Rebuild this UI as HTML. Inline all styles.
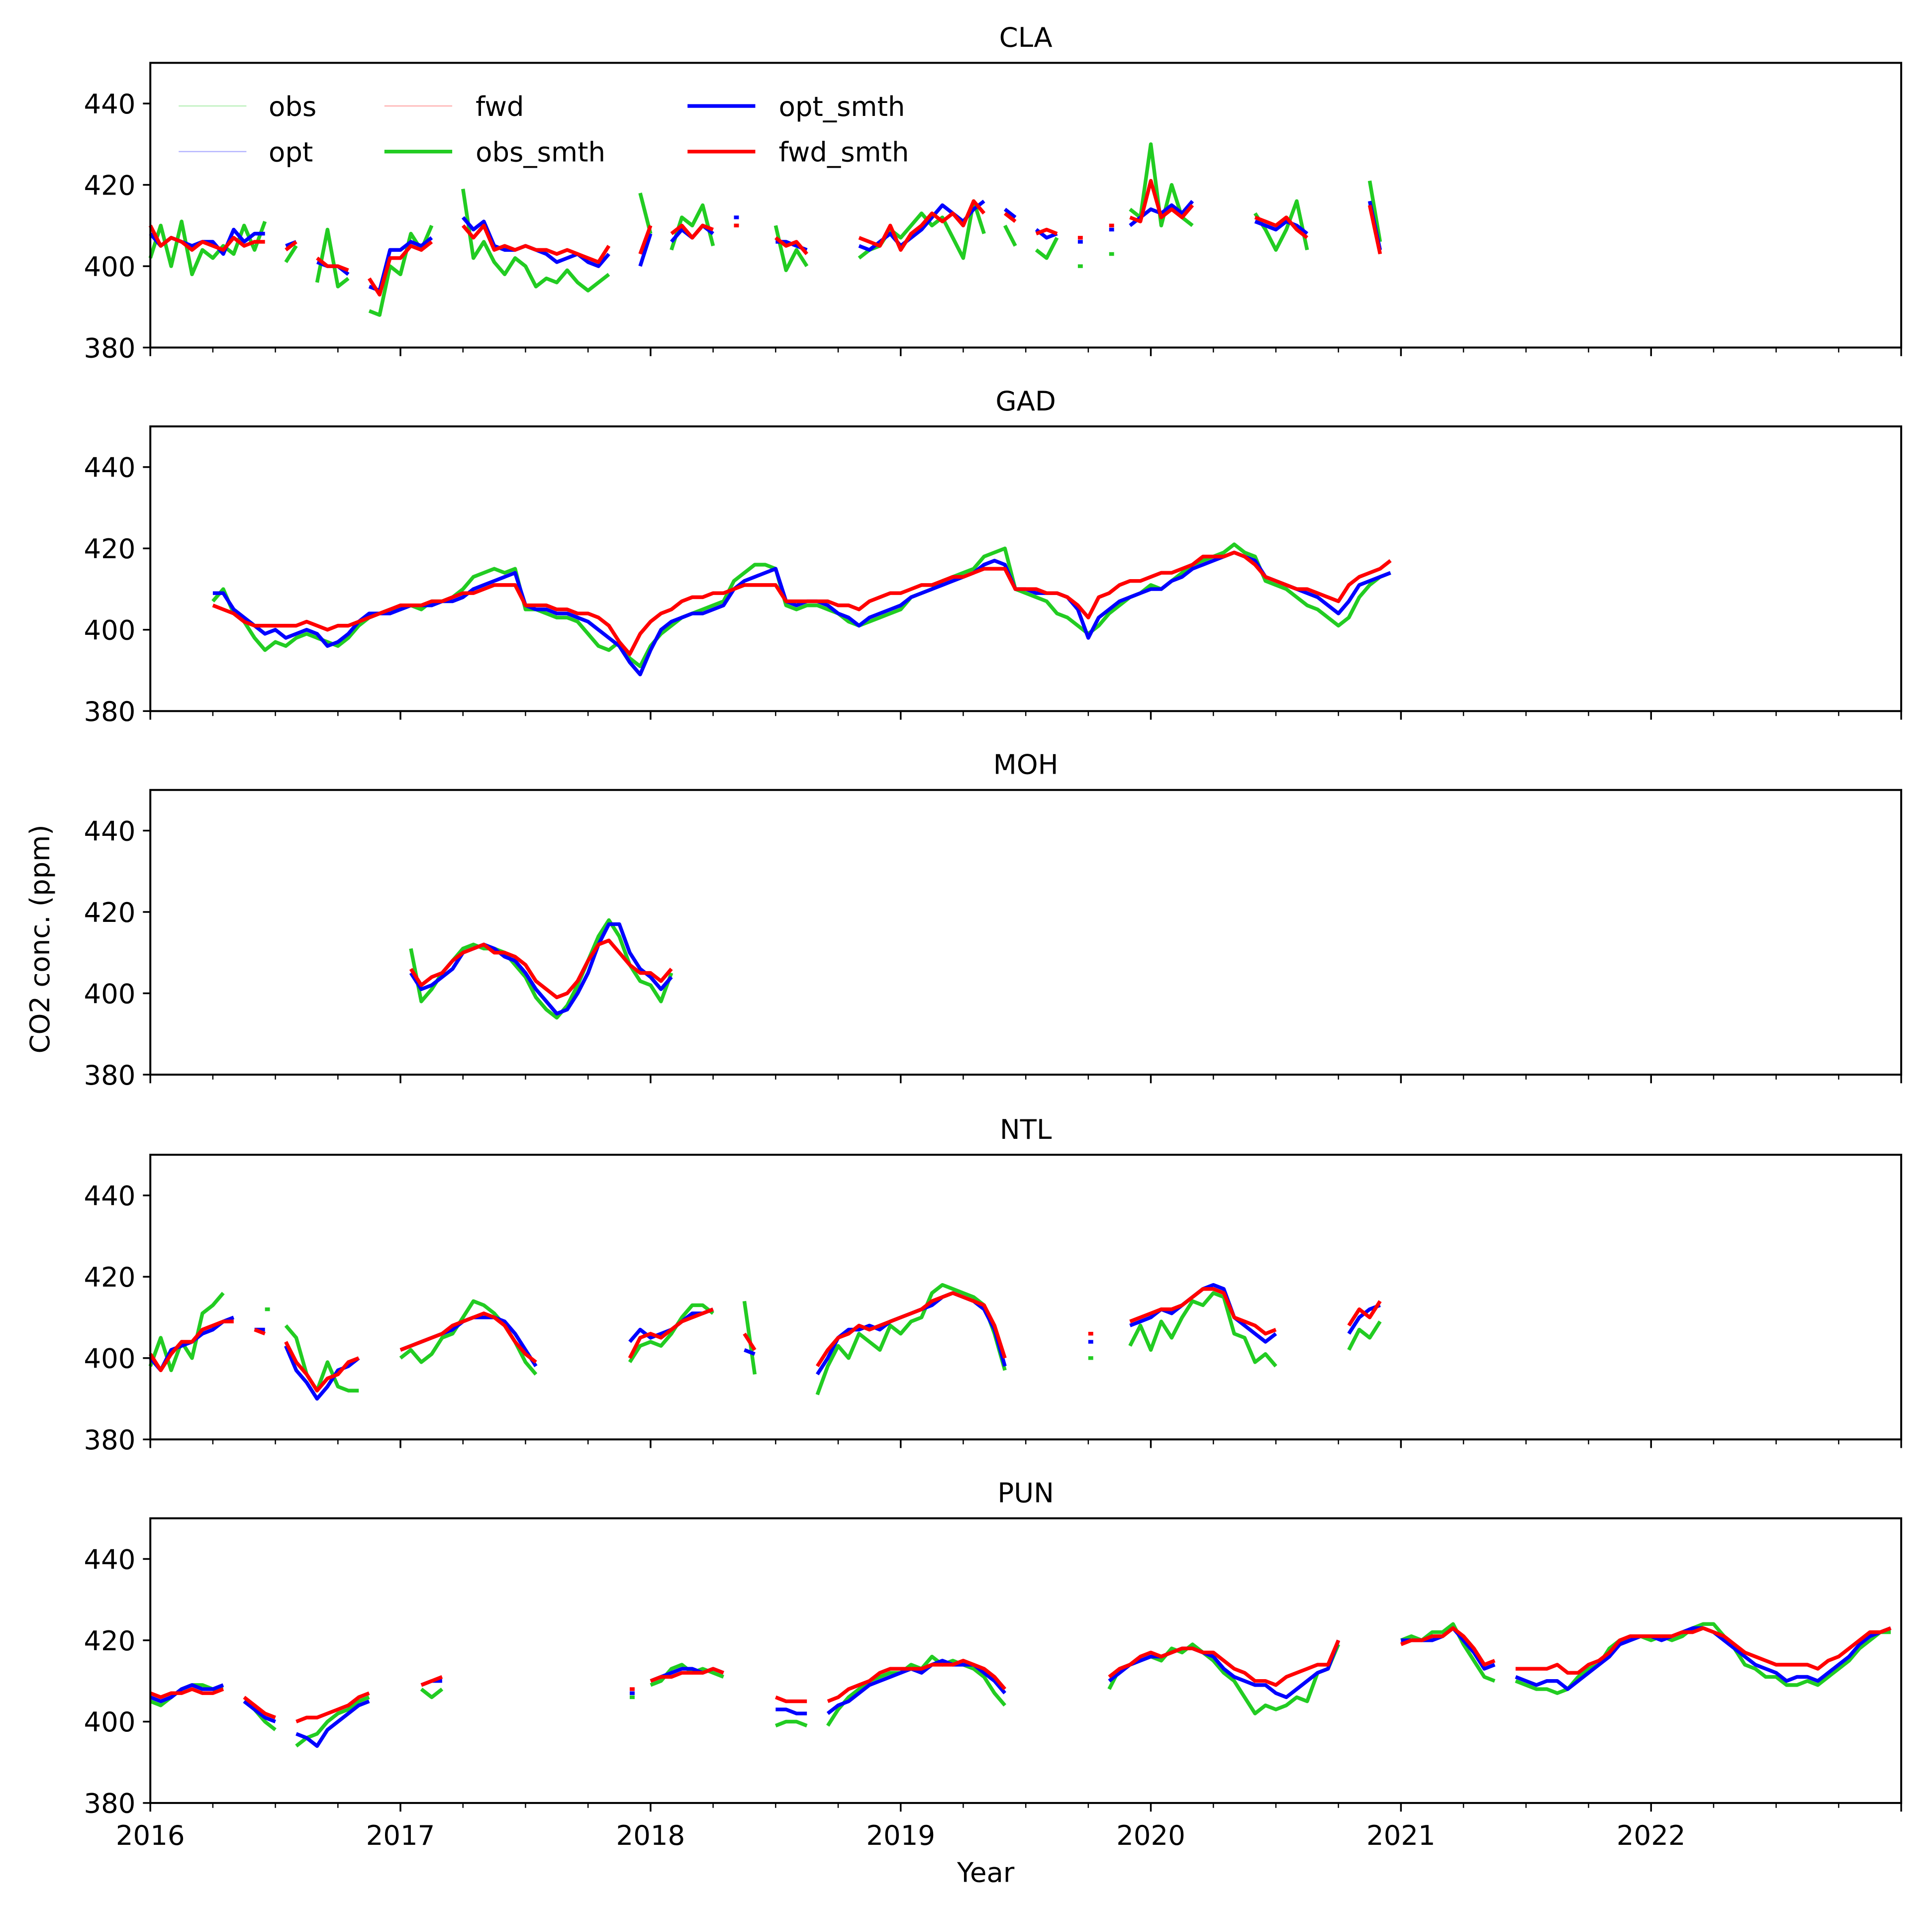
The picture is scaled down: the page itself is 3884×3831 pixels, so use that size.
<!DOCTYPE html>
<html><head><meta charset="utf-8"><style>
html,body{margin:0;padding:0;background:#fff}
svg{display:block}
text{font-family:"DejaVu Sans","Liberation Sans",sans-serif;fill:#000}
</style></head><body>
<svg id="chart" width="3884" height="3831" viewBox="0 0 1568 1546.6" xmlns="http://www.w3.org/2000/svg"></svg>
<script>
const stations = ["CLA","GAD","MOH","NTL","PUN"];
const yTicks = [380,400,420,440];
const xTickLabels = ["2016","2017","2018","2019","2020","2021","2022"];
const n = null;
// half-monthly values starting 2016.0 (step 1/24 yr)
const claOpt = [408,405,407,406,405,406,406,403,409,406,408,408,n,405,406,n,401,400,400,398,n,395,394,404,
 404,406,405,407,n,n,412,409,411,405,404,404,405,404,403,401,402,403,401,400,403,n,n,400,
 408,n,406,409,407,410,408,n,412,n,n,n,406,406,405,404,n,n,n,n,405,404,406,408,
 405,407,409,412,415,413,411,414,416,n,414,412,n,409,407,408,n,406,n,n,409,n,410,412,
 414,413,415,413,416,n,n,n,n,n,411,410,409,411,410,408,n,n,n,n,n,416,404,n];
const claObs = [402,410,400,411,398,404,402,405,403,410,404,411,n,401,405,n,396,409,395,397,n,389,388,400,
 398,408,404,410,n,n,419,402,406,401,398,402,400,395,397,396,399,396,394,396,398,n,n,418,
 408,n,404,412,410,415,405,n,410,n,n,n,410,399,404,400,n,n,n,n,402,404,405,409,
 407,410,413,410,412,407,402,416,408,n,410,405,n,404,402,407,n,400,n,n,403,n,414,412,
 430,410,420,412,410,n,n,n,n,n,413,409,404,409,416,404,n,n,n,n,n,421,406,n];
const claFwd = [410,405,407,406,404,406,405,404,407,405,406,406,n,404,406,n,402,400,400,399,n,397,393,402,
 402,405,404,406,n,n,410,407,410,404,405,404,405,404,404,403,404,403,402,401,405,n,n,403,
 410,n,408,410,407,410,409,n,410,n,n,n,407,405,406,403,n,n,n,n,407,406,405,410,
 404,408,410,413,411,413,410,416,413,n,413,411,n,408,409,408,n,407,n,n,410,n,412,411,
 421,412,414,412,415,n,n,n,n,n,412,411,410,412,409,407,n,n,n,n,n,415,403,n];
const gadOpt = [n,n,n,n,n,n,409,409,405,403,401,399,400,398,399,400,399,396,397,399,402,404,404,404,
 405,406,406,406,407,407,408,410,411,412,413,414,406,405,405,404,404,403,402,400,398,396,392,389,
 395,400,402,403,404,404,405,406,410,412,413,414,415,407,406,407,407,406,404,403,401,403,404,405,
 406,408,409,410,411,412,413,414,416,417,416,410,410,409,409,409,408,405,398,403,405,407,408,409,
 410,410,412,413,415,416,417,418,419,418,417,413,412,411,410,409,408,406,404,407,411,412,413,414];
const gadObs = [n,n,n,n,n,n,407,410,404,402,398,395,397,396,398,399,398,397,396,398,401,403,404,405,
 405,406,405,407,407,408,410,413,414,415,414,415,405,405,404,403,403,402,399,396,395,397,393,391,
 396,399,401,403,404,405,406,407,412,414,416,416,415,406,405,406,406,405,404,402,401,402,403,404,
 405,408,409,410,412,413,414,415,418,419,420,410,409,408,407,404,403,401,399,401,404,406,408,409,
 411,410,412,414,416,417,418,419,421,419,418,412,411,410,408,406,405,403,401,403,408,411,413,414];
const gadFwd = [n,n,n,n,n,n,406,405,404,402,401,401,401,401,401,402,401,400,401,401,402,403,404,405,
 406,406,406,407,407,408,409,409,410,411,411,411,406,406,406,405,405,404,404,403,401,397,394,399,
 402,404,405,407,408,408,409,409,410,411,411,411,411,407,407,407,407,407,406,406,405,407,408,409,
 409,410,411,411,412,413,413,414,415,415,415,410,410,410,409,409,408,406,403,408,409,411,412,412,
 413,414,414,415,416,418,418,418,419,418,416,413,412,411,410,410,409,408,407,411,413,414,415,417];
const mohOpt = [n,n,n,n,n,n,n,n,n,n,n,n,n,n,n,n,n,n,n,n,n,n,n,n,
 n,405,401,402,404,406,410,411,412,411,409,408,405,401,398,395,396,400,405,412,417,417,410,406,
 404,401,404];
const mohObs = [n,n,n,n,n,n,n,n,n,n,n,n,n,n,n,n,n,n,n,n,n,n,n,n,
 n,411,398,401,405,408,411,412,411,411,410,407,404,399,396,394,397,402,408,414,418,414,407,403,
 402,398,405];
const mohFwd = [n,n,n,n,n,n,n,n,n,n,n,n,n,n,n,n,n,n,n,n,n,n,n,n,
 n,406,402,404,405,408,410,411,412,410,410,409,407,403,401,399,400,403,408,412,413,410,407,405,
 405,403,406];
const ntlOpt = [400,397,402,403,404,406,407,409,410,n,407,407,n,403,397,394,390,393,397,398,400,n,n,n,
 402,403,404,405,406,407,409,410,410,410,409,406,402,398,n,n,n,n,n,n,n,n,404,407,
 405,406,407,409,411,411,412,n,n,402,401,n,n,n,n,n,396,400,405,407,407,408,407,409,
 410,411,412,413,415,416,415,414,412,407,398,n,n,n,n,n,n,n,404,n,n,n,408,409,
 410,412,411,413,415,417,418,417,410,408,406,404,406,n,n,n,n,n,n,406,410,412,413,n];
const ntlObs = [398,405,397,404,400,411,413,416,n,n,n,412,n,408,405,396,392,399,393,392,392,n,n,n,
 400,402,399,401,405,406,410,414,413,411,408,404,399,396,n,n,n,n,n,n,n,n,399,403,
 404,403,406,410,413,413,411,n,n,414,396,n,n,n,n,n,391,398,403,400,406,404,402,408,
 406,409,410,416,418,417,416,415,413,406,397,n,n,n,n,n,n,n,400,n,n,n,403,408,
 402,409,405,410,414,413,416,415,406,405,399,401,398,n,n,n,n,n,n,402,407,405,409,n];
const ntlFwd = [401,397,401,404,404,407,408,409,409,n,407,406,n,404,399,396,392,395,396,399,400,n,n,n,
 402,403,404,405,406,408,409,410,411,410,408,404,401,399,n,n,n,n,n,n,n,n,400,405,
 406,405,407,409,410,411,412,n,n,406,402,n,n,n,n,n,398,402,405,406,408,407,408,409,
 410,411,412,414,415,416,415,414,413,408,400,n,n,n,n,n,n,n,406,n,n,n,409,410,
 411,412,412,413,415,417,417,416,410,409,408,406,407,n,n,n,n,n,n,408,412,410,414,n];
const punOpt = [406,405,406,408,409,408,408,409,n,405,403,401,400,n,397,396,394,398,400,402,404,405,n,n,
 n,n,409,410,410,n,n,n,n,n,n,n,n,n,n,n,n,n,n,n,n,n,407,n,
 410,411,412,413,413,412,413,412,n,n,n,n,403,403,402,402,n,402,404,405,407,409,410,411,
 412,413,412,414,415,414,414,414,412,410,407,n,n,n,n,n,n,n,n,n,410,412,414,415,
 416,416,417,418,418,417,416,413,411,410,409,409,407,406,408,410,412,413,420,n,n,n,n,n,
 420,420,420,420,421,423,420,417,413,414,n,411,410,409,410,410,408,410,412,414,416,419,420,421,
 421,420,421,422,423,423,422,420,418,416,414,413,412,410,411,411,410,412,414,416,419,421,422,423];
const punObs = [405,404,406,408,409,409,408,408,n,405,403,400,398,n,394,396,397,400,402,403,405,406,n,n,
 n,n,408,406,408,n,n,n,n,n,n,n,n,n,n,n,n,n,n,n,n,n,406,n,
 409,410,413,414,412,413,412,411,n,n,n,n,399,400,400,399,n,399,403,406,408,410,411,412,
 412,414,413,416,414,415,414,413,411,407,404,n,n,n,n,n,n,n,n,n,408,413,414,415,
 416,415,418,417,419,417,415,412,410,406,402,404,403,404,406,405,412,413,419,n,n,n,n,n,
 420,421,420,422,422,424,419,415,411,410,n,410,409,408,408,407,408,411,413,414,418,420,420,421,
 420,421,420,421,423,424,424,421,418,414,413,411,411,409,409,410,409,411,413,415,418,420,422,422];
const punFwd = [407,406,407,407,408,407,407,408,n,406,404,402,401,n,400,401,401,402,403,404,406,407,n,n,
 n,n,409,410,411,n,n,n,n,n,n,n,n,n,n,n,n,n,n,n,n,n,408,n,
 410,411,411,412,412,412,413,412,n,n,n,n,406,405,405,405,n,405,406,408,409,410,412,413,
 413,413,413,414,414,414,415,414,413,411,408,n,n,n,n,n,n,n,n,n,411,413,414,416,
 417,416,417,418,418,417,417,415,413,412,410,410,409,411,412,413,414,414,420,n,n,n,n,n,
 419,420,420,421,421,423,421,418,414,415,n,413,413,413,413,414,412,412,414,415,417,420,421,421,
 421,421,421,422,422,423,422,421,419,417,416,415,414,414,414,414,413,415,416,418,420,422,422,423];
const optSeries = [claOpt,gadOpt,mohOpt,ntlOpt,punOpt];
const obsSeries = [claObs,gadObs,mohObs,ntlObs,punObs];
const fwdSeries = [claFwd,gadFwd,mohFwd,ntlFwd,punFwd];

const NS="http://www.w3.org/2000/svg";
const svg=document.getElementById('chart');
const X0=122,X1=1543,T0=2016,T1=2023;
const panelTops=[51,346,641,937,1232], PH=231;
const xs=t=>X0+(t-T0)/(T1-T0)*(X1-X0);
function mk(tag,attrs,parent){const e=document.createElementNS(NS,tag);for(const k in attrs)e.setAttribute(k,attrs[k]);(parent||svg).appendChild(e);return e;}
function segs(arr,ys){const out=[];let cur=[];arr.forEach((v,i)=>{if(v==null){if(cur.length)out.push(cur);cur=[];}else cur.push([xs(T0+i/24),ys(v)]);});if(cur.length)out.push(cur);return out;}

stations.forEach((st,p)=>{
  const top=panelTops[p],bot=top+PH;
  const ys=v=>bot-(v-380)/(450-380)*PH;
  const g=mk('g',{});
  
  
  const tt=mk('text',{x:(X0+X1)/2,y:top-13,'text-anchor':'middle','font-size':22},g);
  tt.textContent=st;
  
  
  const series=[[obsSeries[p],'#22cc22'],[optSeries[p],'#0000ff'],[fwdSeries[p],'#ff0000']];
  series.forEach(([arr,col],si)=>{
    segs(arr,ys).forEach(s=>{
      const pts=s.length===1?[s[0],[s[0][0]+4,s[0][1]]]:s;
      const pl=mk('polyline',{points:pts.map(q=>q.join(',')).join(' '),fill:'none',stroke:col,'stroke-width':3,'stroke-linejoin':'round'},g);
      
      
    });
  });
  const fr=mk('rect',{x:X0,y:top,width:X1-X0,height:PH,fill:'none',stroke:'#000','stroke-width':1.6},g);
  
  
  yTicks.forEach(v=>{
    mk('line',{x1:X0-6,x2:X0,y1:ys(v),y2:ys(v),stroke:'#000','stroke-width':1.4},g);
    const t=mk('text',{x:X0-12,y:ys(v)+8,'text-anchor':'end','font-size':22},g);
    t.textContent=v;
    
    
  });
  for(let q=0;q<=28;q++){
    const x=xs(T0+q/4),major=q%4===0;
    mk('line',{x1:x,x2:x,y1:bot,y2:bot+(major?7:4),stroke:'#000','stroke-width':major?1.4:1},g);
  }
  if(p===4){
    xTickLabels.forEach((l,i)=>{
      const t=mk('text',{x:xs(T0+i),y:bot+34,'text-anchor':'middle','font-size':22},g);
      t.textContent=l;
      
      
    });
  }
});
const xl=mk('text',{x:800,y:1527,'text-anchor':'middle','font-size':22});
xl.textContent='Year';


const yl=mk('text',{x:0,y:0,'text-anchor':'middle','font-size':22,transform:'translate(40,762) rotate(-90)'});
yl.textContent='CO2 conc. (ppm)';



const legendItems=[['obs','#22cc22',0.3,1,145,86,218],['opt','#0000ff',0.3,1,145,123,218],['fwd','#ff0000',0.3,1,312,86,386],['obs_smth','#22cc22',1,3,312,123,386],['opt_smth','#0000ff',1,3,558,86,632],['fwd_smth','#ff0000',1,3,558,123,632]];
const lg=mk('g',{});


legendItems.forEach(([lab,col,op,w,x,y,tx])=>{
  const it=mk('g',{},lg);
  
  
  mk('line',{x1:x,x2:x+55,y1:y,y2:y,stroke:col,'stroke-width':w,'stroke-opacity':op},it);
  const t=mk('text',{x:tx,y:y+8,'font-size':22},it);
  t.textContent=lab;
});
</script>
</body></html>
